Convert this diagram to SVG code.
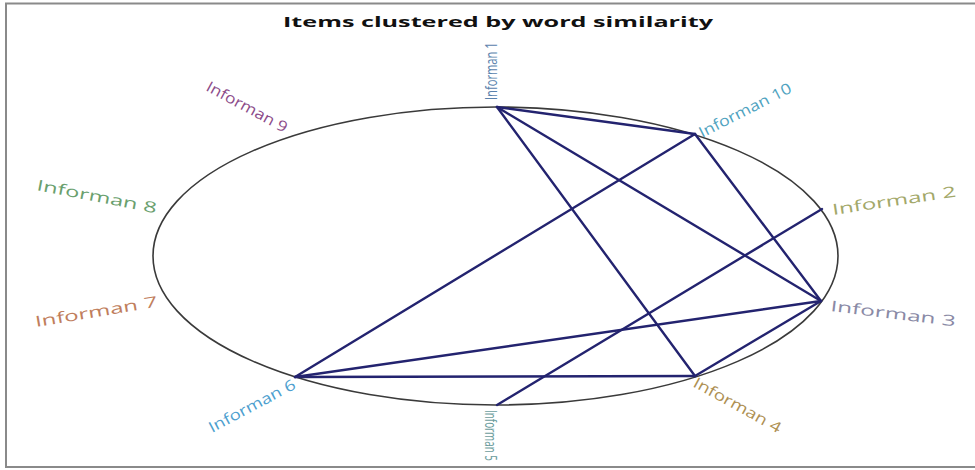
<svg xmlns="http://www.w3.org/2000/svg" width="975" height="470" viewBox="0 0 975 470">
<style>
.lbl{font-family:"Open Sans","Liberation Sans",sans-serif;font-size:15px}
.vlbl{font-family:"Open Sans","Liberation Sans",sans-serif;font-size:13px}
.edge{stroke:#23236f;stroke-width:2.4;fill:none;stroke-linecap:round}
.title{font-family:"Open Sans","Liberation Sans",sans-serif;font-size:15px;font-weight:bold;fill:#111}
</style>
<rect width="975" height="470" fill="#fff"/>
<path d="M975,3.5 H6 V467 H975" fill="none" stroke="#8a8a8a" stroke-width="2"/>
<text class="title" x="498" y="27" text-anchor="middle" textLength="430" lengthAdjust="spacingAndGlyphs">Items clustered by word similarity</text>
<ellipse cx="495.5" cy="256" rx="342.5" ry="149" fill="none" stroke="#3a3a3a" stroke-width="1.6"/>
<g id="connectors">
<line class="edge" x1="497" y1="107" x2="695" y2="134"/>
<line class="edge" x1="497" y1="107" x2="821" y2="301"/>
<line class="edge" x1="497" y1="107" x2="695" y2="376"/>
<line class="edge" x1="695" y1="134" x2="821" y2="301"/>
<line class="edge" x1="695" y1="134" x2="295" y2="377"/>
<line class="edge" x1="822" y1="209" x2="497" y2="405"/>
<line class="edge" x1="821" y1="301" x2="295" y2="377"/>
<line class="edge" x1="821" y1="301" x2="695" y2="376"/>
<line class="edge" x1="295" y1="377" x2="695" y2="376"/>
</g>
<g id="n1"><text class="vlbl" fill="#5a82ad" transform="translate(497,100) rotate(-90) scale(0.86,1.3)">Informan 1</text></g>
<g id="n10"><text class="lbl" fill="#4fa3bf" transform="translate(702,138) rotate(-27)" textLength="102" lengthAdjust="spacingAndGlyphs">Informan 10</text></g>
<g id="n2"><text class="lbl" fill="#a3a86a" transform="translate(833,215) rotate(-8.5)" textLength="125" lengthAdjust="spacingAndGlyphs">Informan 2</text></g>
<g id="n3"><text class="lbl" fill="#8a8aa6" transform="translate(830,311) rotate(7)" textLength="126" lengthAdjust="spacingAndGlyphs">Informan 3</text></g>
<g id="n4"><text class="lbl" fill="#ae9052" transform="translate(692,386) rotate(29)" textLength="98" lengthAdjust="spacingAndGlyphs">Informan 4</text></g>
<g id="n5"><text class="vlbl" fill="#6c9c9c" transform="translate(485,410) rotate(90) scale(0.76,1.3)">Informan 5</text></g>
<g id="n6"><text class="lbl" fill="#4e9fcf" transform="translate(212,433) rotate(-28)" textLength="96" lengthAdjust="spacingAndGlyphs">Informan 6</text></g>
<g id="n7"><text class="lbl" fill="#c07e5c" transform="translate(36,327) rotate(-9.5)" textLength="124" lengthAdjust="spacingAndGlyphs">Informan 7</text></g>
<g id="n8"><text class="lbl" fill="#6a9f6e" transform="translate(36,190) rotate(11)" textLength="122" lengthAdjust="spacingAndGlyphs">Informan 8</text></g>
<g id="n9"><text class="lbl" fill="#8c4c8a" transform="translate(205,90) rotate(28.5)" textLength="90" lengthAdjust="spacingAndGlyphs">Informan 9</text></g>
</svg>
